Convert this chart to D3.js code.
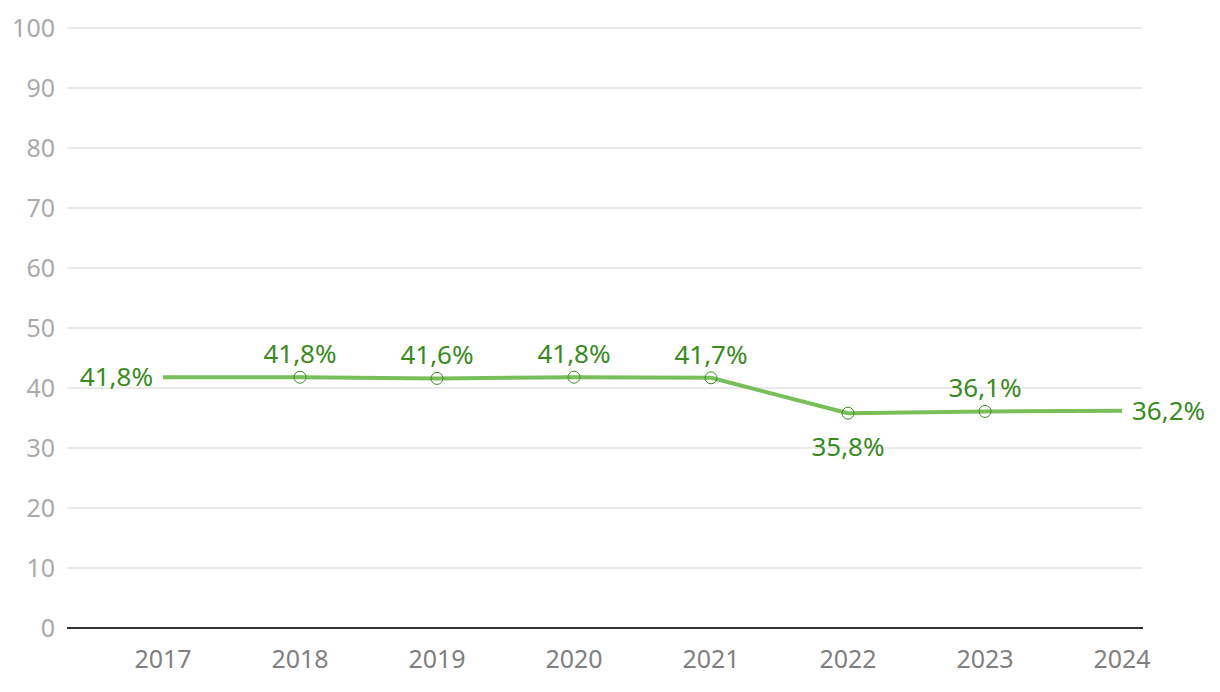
<!DOCTYPE html>
<html>
<head>
<meta charset="utf-8">
<script src="https://cdn.jsdelivr.net/npm/d3@7"></script>
<style>
  body { margin: 0; background: #fff; }
  svg { font-family: "Noto Sans", sans-serif; }
</style>
</head>
<body>
<svg id="chart" width="1220" height="692"></svg>
<script>
// chart data
const years = ["2017", "2018", "2019", "2020", "2021", "2022", "2023", "2024"];
const values = [41.8, 41.8, 41.6, 41.8, 41.7, 35.8, 36.1, 36.2];
const labels = ["41,8%", "41,8%", "41,6%", "41,8%", "41,7%", "35,8%", "36,1%", "36,2%"];
const yTicks = [0, 10, 20, 30, 40, 50, 60, 70, 80, 90, 100];
// where each value label goes relative to its point
const labelPos = ["left", "top", "top", "top", "top", "bottom", "top", "right"];

const svg = d3.select("#chart");
const m = { left: 67, right: 1142, top: 28, bottom: 628 };

const x = d3.scalePoint(years, [163, 1122]);
const y = d3.scaleLinear([0, 100], [m.bottom, m.top]);

// grid lines + y labels
svg.append("g")
  .selectAll("line")
  .data(yTicks.filter(d => d > 0))
  .join("line")
  .attr("x1", m.left).attr("x2", m.right)
  .attr("y1", d => y(d)).attr("y2", d => y(d))
  .attr("stroke", "#e3e3e3")
  .attr("stroke-width", 1.5);

svg.append("g")
  .selectAll("text")
  .data(yTicks)
  .join("text")
  .attr("x", 55)
  .attr("y", d => y(d))
  .attr("dy", "0.35em")
  .attr("text-anchor", "end")
  .attr("fill", "#aaaaaa")
  .style("font-size", "25px")
  .text(d => d);

// baseline
svg.append("line")
  .attr("x1", m.left).attr("x2", m.right + 1)
  .attr("y1", y(0)).attr("y2", y(0))
  .attr("stroke", "#333")
  .attr("stroke-width", 2);

// x labels
svg.append("g")
  .selectAll("text")
  .data(years)
  .join("text")
  .attr("x", d => x(d))
  .attr("y", 668)
  .attr("text-anchor", "middle")
  .attr("fill", "#808080")
  .style("font-size", "25px")
  .text(d => d);

// line
const line = d3.line()
  .x((d, i) => x(years[i]))
  .y(d => y(d));

svg.append("path")
  .datum(values)
  .attr("d", line)
  .attr("fill", "none")
  .attr("stroke", "#78bf5a")
  .attr("stroke-width", 4)
  .attr("stroke-linejoin", "round");

// markers (none on the first and last point)
svg.append("g")
  .selectAll("circle")
  .data(values.slice(1, -1))
  .join("circle")
  .attr("cx", (d, i) => x(years[i + 1]))
  .attr("cy", d => y(d))
  .attr("r", 6)
  .attr("fill", "none")
  .attr("stroke", "#3d8a26")
  .attr("stroke-width", 1);

// value labels
svg.append("g")
  .selectAll("text")
  .data(values)
  .join("text")
  .attr("x", (d, i) => {
    const p = labelPos[i];
    if (p === "left") return x(years[i]) - 10;
    if (p === "right") return x(years[i]) + 10;
    return x(years[i]);
  })
  .attr("y", (d, i) => {
    const p = labelPos[i];
    if (p === "top") return y(d) - 14;
    if (p === "bottom") return y(d) + 43;
    return y(d) + 9;
  })
  .attr("text-anchor", (d, i) => labelPos[i] === "left" ? "end" : labelPos[i] === "right" ? "start" : "middle")
  .attr("fill", "#3a8a1f")
  .style("font-size", "26px")
  .text((d, i) => labels[i]);
</script>
</body>
</html>
